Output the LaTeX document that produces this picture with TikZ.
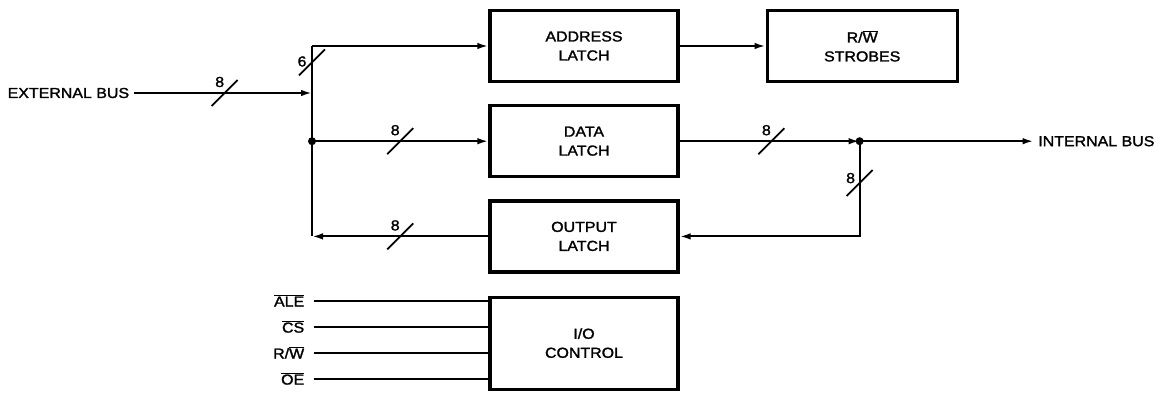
\documentclass[tikz,border=0pt]{standalone}
\usepackage{fontspec}
\setmainfont[FakeStretch=1.1, FakeBold=1.6]{Liberation Sans}
\usepackage{tikz}
\usetikzlibrary{positioning,calc,arrows.meta}
\newcommand{\ovl}[1]{$\overline{\mbox{#1}}$}
\newcommand{\rw}{R/\ovl{W}}
\newcommand{\diafont}{\fontsize{14.5}{19}\selectfont}
% bus width mark: point, number of lines, label offset
\newcommand{\buswidth}[3]{%
    \draw[slashmark] (#1) ++(-13,13) -- ++(26,-26);
    \node[buslabel] at ($(#1)+(#3)$) {#2};}
\tikzset{
    latch/.style={draw=black, rectangle, line width=3.2pt,
                  minimum height=71pt, minimum width=188pt, sharp corners,
                  align=center, font=\diafont, inner sep=0pt},
    ctlblock/.style={latch, minimum height=92pt},
    termlabel/.style={font=\diafont, inner sep=4.5pt},
    siglabel/.style={font=\diafont, inner sep=0pt, text height=11pt, text depth=0pt},
    buslabel/.style={font=\diafont, inner sep=0pt},
    dot/.style={fill=black, shape=circle, minimum size=8pt, inner sep=0pt},
    slashmark/.style={line width=1.8pt},
    % Line styles
    bus/.style={line width=2.1pt},
    busarrow/.style={bus, -{Latex[length=11pt, width=6.5pt]}}
}
\begin{document}
\begin{tikzpicture}[x=1pt, y=-1pt]
    \useasboundingbox (0,0) rectangle (1166,393);
    % Latches and control block
    \node[latch] (addr) at (584,46) {ADDRESS\\LATCH};
    \node[latch, minimum width=190pt, right=86pt of addr] (strobes) {\rw\\STROBES};
    \node[latch, below=21pt of addr] (data) {DATA\\LATCH};
    \node[latch, below=21pt of data] (output) {OUTPUT\\LATCH};
    \node[ctlblock, below=22pt of output] (ioctl) {I/O\\CONTROL};

    % Bus terminals
    \node[termlabel, anchor=west] (extbus) at (3,93) {EXTERNAL BUS};
    \coordinate (extin) at (312,93);
    \coordinate[right=180pt of data.east] (junc);
    \node[termlabel, right=174pt of junc] (intbus) {INTERNAL BUS};

    % External bus side
    \draw[busarrow] (extbus) -- coordinate[pos=0.51] (w1) (extin);
    \draw[bus] (extin |- addr.west) -- coordinate[pos=0.35] (w2) (extin) -- (extin |- output.west);
    \draw[busarrow] (extin |- addr.west) -- (addr.west);
    \draw[busarrow] (extin |- data.west) -- coordinate[pos=0.5] (w3) (data.west);
    \draw[busarrow] (output.west) -- coordinate[pos=0.5] (w4) (extin |- output.west);
    \node[dot] at (extin |- data.west) {};

    % Internal bus side
    \draw[busarrow] (addr) -- (strobes);
    \draw[busarrow] (data) -- coordinate[pos=0.51] (w5) (junc);
    \draw[busarrow] (junc) -- (intbus);
    \draw[busarrow] (junc) -- coordinate[pos=0.44] (w6) (junc |- output.east) -- (output.east);
    \node[dot] at (junc) {};

    % Bus widths
    \buswidth{w1}{8}{-5,-11}
    \buswidth{w2}{6}{-10,-1}
    \buswidth{w3}{8}{-5,-11}
    \buswidth{w4}{8}{-5,-11}
    \buswidth{w5}{8}{-5,-11}
    \buswidth{w6}{8}{-9,-5}

    % Control inputs
    \foreach \sig/\dy [count=\i] in {\ovl{ALE}/-42, \ovl{CS}/-16, \rw/10, \ovl{OE}/36} {
        \coordinate (sin\i) at ($(ioctl.west)+(-174,\dy)$);
        \node[siglabel, left=10pt of sin\i] (sig\i) {\sig};
        \draw[bus] (sin\i) -- (sin\i -| ioctl.west);
    }
\end{tikzpicture}
\end{document}
